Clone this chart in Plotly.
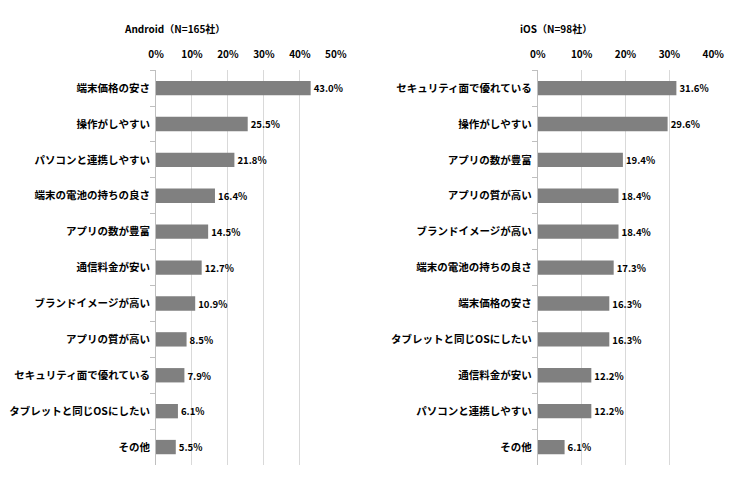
import plotly.graph_objects as go

# Android (N=165社)
android_labels = ["端末価格の安さ", "操作がしやすい", "パソコンと連携しやすい", "端末の電池の持ちの良さ",
                  "アプリの数が豊富", "通信料金が安い", "ブランドイメージが高い", "アプリの質が高い",
                  "セキュリティ面で優れている", "タブレットと同じOSにしたい", "その他"]
android_values = [43.0, 25.5, 21.8, 16.4, 14.5, 12.7, 10.9, 8.5, 7.9, 6.1, 5.5]

# iOS (N=98社)
ios_labels = ["セキュリティ面で優れている", "操作がしやすい", "アプリの数が豊富", "アプリの質が高い",
              "ブランドイメージが高い", "端末の電池の持ちの良さ", "端末価格の安さ", "タブレットと同じOSにしたい",
              "通信料金が安い", "パソコンと連携しやすい", "その他"]
ios_values = [31.6, 29.6, 19.4, 18.4, 18.4, 17.3, 16.3, 16.3, 12.2, 12.2, 6.1]

android_ticks = [0, 10, 20, 30, 40, 50]
ios_ticks = [0, 10, 20, 30, 40]

FONT = "Noto Sans CJK JP"
BAR = "#808080"
GRID = "#d9d9d9"

fig = go.Figure()

for labels, values, xa, ya in [(android_labels, android_values, "x", "y"),
                               (ios_labels, ios_values, "x2", "y2")]:
    fig.add_trace(go.Bar(
        x=values, y=labels, orientation="h", xaxis=xa, yaxis=ya,
        marker=dict(color=BAR, line=dict(width=0)),
        texttemplate="%{x:.1f}%", textposition="outside",
        textfont=dict(family=FONT, size=10, color="#000", weight=700),
        cliponaxis=False, showlegend=False,
    ))

def xaxis(domain, ticks, anchor):
    return dict(
        domain=domain, anchor=anchor, side="top", range=[0, ticks[-1]],
        tickvals=ticks, ticktext=[f"{t}%" for t in ticks],
        showgrid=True, gridcolor=GRID, gridwidth=1, zeroline=False,
        showline=False, ticks="", automargin=False, ticklabelstandoff=9,
        tickfont=dict(family=FONT, size=10, color="#000", weight=700),
    )

def yaxis(anchor):
    return dict(
        domain=[0.073, 0.874], anchor=anchor, autorange="reversed",
        showline=True, linecolor="#bfbfbf", linewidth=1,
        ticks="outside", tickson="boundaries", ticklen=5, tickcolor="#bfbfbf",
        showgrid=False, automargin=False, ticklabelstandoff=3,
        tickfont=dict(family=FONT, size=10.5, color="#000", weight=700),
    )

# page body adds an 8px offset, so positions are shifted up/left by 8px
fig.update_layout(
    width=740, height=493,
    margin=dict(l=0, r=0, t=0, b=0),
    paper_bgcolor="white", plot_bgcolor="white",
    bargap=0.6,
    xaxis=xaxis([0.2, 0.443], android_ticks, "y"),
    yaxis=yaxis("x"),
    xaxis2=xaxis([0.716, 0.953], ios_ticks, "y2"),
    yaxis2=yaxis("x2"),
    annotations=[
        dict(text="Android（N=165社）", x=166 / 740, y=1 - 20 / 493, xref="paper", yref="paper",
             xanchor="center", yanchor="middle", showarrow=False,
             font=dict(family=FONT, size=10, color="#000", weight=700)),
        dict(text="iOS（N=98社）", x=548 / 740, y=1 - 20 / 493, xref="paper", yref="paper",
             xanchor="center", yanchor="middle", showarrow=False,
             font=dict(family=FONT, size=10, color="#000", weight=700)),
    ],
)

fig.write_html("out.html")
